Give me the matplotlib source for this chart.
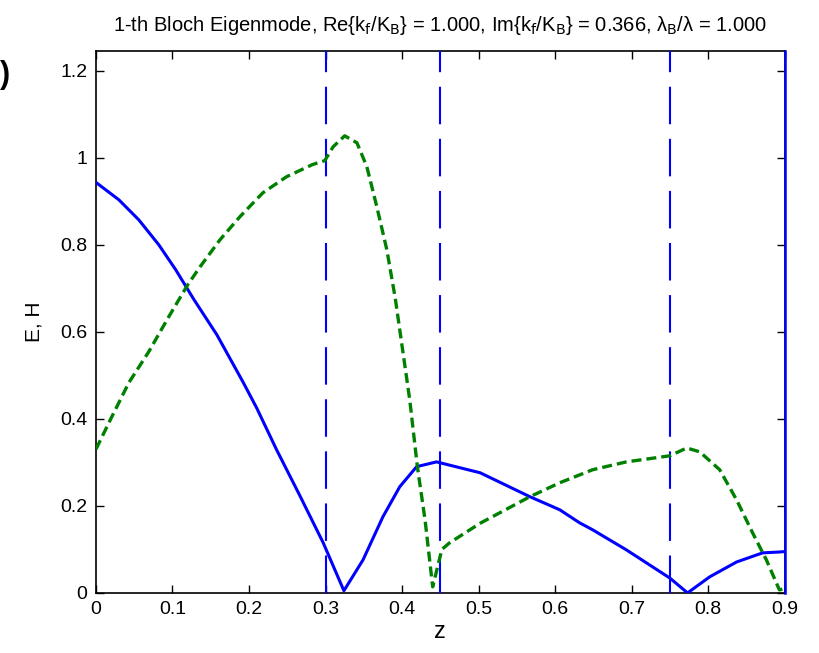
import matplotlib
matplotlib.use("Agg")
import matplotlib.pyplot as plt

blue_x = [0, 0.03, 0.056, 0.082, 0.104, 0.128, 0.158, 0.192, 0.21, 0.236, 0.266, 0.297, 0.324, 0.349, 0.375,
          0.397, 0.419, 0.445, 0.502, 0.567, 0.606, 0.632, 0.649, 0.693, 0.75, 0.773, 0.802, 0.837, 0.871,
          0.893, 0.9]
blue_y = [0.943, 0.903, 0.857, 0.80, 0.743, 0.674, 0.593, 0.485, 0.425, 0.329, 0.225, 0.115, 0.005, 0.076, 0.175,
          0.244, 0.29, 0.301, 0.276, 0.221, 0.191, 0.161, 0.145, 0.099, 0.034, 0.0, 0.037, 0.071, 0.092,
          0.094, 0.095]

green_x = [0, 0.02, 0.043, 0.069, 0.095, 0.12, 0.136, 0.162, 0.188, 0.218, 0.249, 0.283, 0.299, 0.31, 0.325,
           0.341, 0.354, 0.367, 0.38, 0.391, 0.41, 0.42, 0.43, 0.44, 0.452, 0.462, 0.502, 0.567, 0.606, 0.649,
           0.693, 0.75, 0.772, 0.789, 0.815, 0.837, 0.858, 0.876, 0.893, 0.9]
green_y = [0.33, 0.402, 0.483, 0.554, 0.634, 0.708, 0.749, 0.811, 0.864, 0.919, 0.956, 0.984, 0.993, 1.025, 1.05,
           1.034, 0.979, 0.887, 0.789, 0.678, 0.444, 0.29, 0.168, 0.014, 0.10, 0.115, 0.16, 0.221, 0.253, 0.283,
           0.301, 0.315, 0.333, 0.324, 0.283, 0.214, 0.138, 0.076, 0.007, 0.01]

boundaries = [0.3, 0.45, 0.75, 0.9]
xticks = [0, 0.1, 0.2, 0.3, 0.4, 0.5, 0.6, 0.7, 0.8, 0.9]
yticks = [0, 0.2, 0.4, 0.6, 0.8, 1.0, 1.2]
ytick_labels = ["0", "0.2", "0.4", "0.6", "0.8", "1", "1.2"]
xtick_labels = ["0", "0.1", "0.2", "0.3", "0.4", "0.5", "0.6", "0.7", "0.8", "0.9"]

plt.rcParams['font.family'] = ['Liberation Sans', 'DejaVu Sans']

fig = plt.figure(figsize=(8.2, 6.53), dpi=100)
ax = fig.add_axes([0.117, 0.092, 0.840, 0.830])

for b in boundaries[:-1]:
    ax.axvline(b, color='#0000ff', lw=1.5, dashes=(18, 7), zorder=3)
ax.axvline(boundaries[-1], color='#0000ff', lw=1.8, zorder=4, clip_on=False)

ax.plot(blue_x, blue_y, color='#0000ff', lw=2.2, zorder=5)
ax.plot(green_x, green_y, color='#008000', lw=2.4, dashes=(3, 1.5), zorder=5)

ax.set_xlim(0, 0.9)
ax.set_ylim(0, 1.245)
ax.set_xticks(xticks)
ax.set_xticklabels(xtick_labels)
ax.set_yticks(yticks)
ax.set_yticklabels(ytick_labels)
ax.tick_params(direction='in', top=True, right=True, length=6, width=1, labelsize=14, pad=6)
for s in ax.spines.values():
    s.set_linewidth(1.2)

ax.set_xlabel('z', fontsize=17, labelpad=2)
ax.set_ylabel('E, H', fontsize=15, labelpad=12)
ax.set_title('1-th Bloch Eigenmode, Re{k$_\\mathrm{f}$/K$_\\mathrm{B}$} = 1.000, '
             'Im{k$_\\mathrm{f}$/K$_\\mathrm{B}$} = 0.366, λ$_\\mathrm{B}$/λ = 1.000',
             fontsize=14.5, pad=14)

fig.text(0.0, 0.885, ')', fontsize=22, fontweight='bold', ha='left', va='center')

fig.savefig('out.png', dpi=100)
